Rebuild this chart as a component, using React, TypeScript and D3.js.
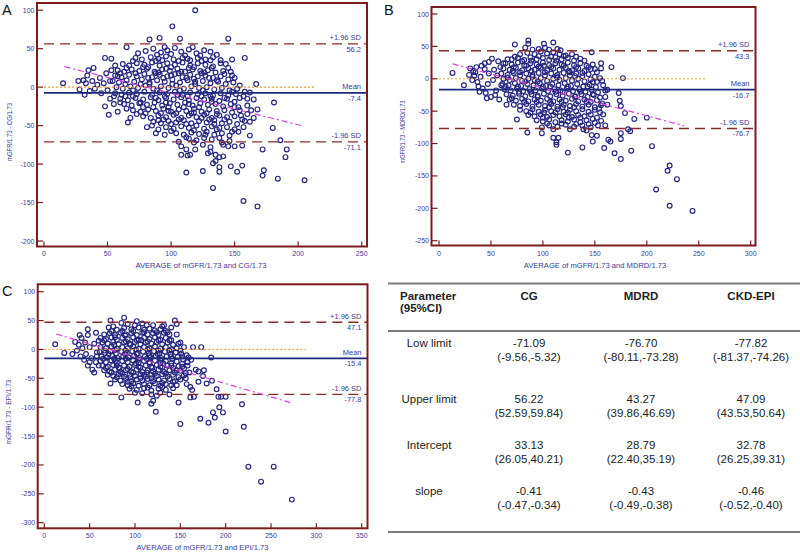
import React from 'react';
import * as d3 from 'd3';

type Pt = [number, number];

// ---------- DATA ----------
const panelLetters = ['A', 'B', 'C'];
const xTitles = ['AVERAGE of mGFR/1.73 and CG/1.73', 'AVERAGE of mGFR/1.73 and MDRD/1.73', 'AVERAGE of mGFR/1.73 and EPI/1.73'];
const yTitles = ['mGFR/1.73 - CG/1.73', 'mGFR/1.73 - MDRD/1.73', 'mGFR/1.73 - EPI/1.73'];
const xTicksA = [0, 50, 100, 150, 200, 250];
const xTicksB = [0, 50, 100, 150, 200, 250, 300];
const xTicksC = [0, 50, 100, 150, 200, 250, 300, 350];
const yTicksA = [100, 50, 0, -50, -100, -150, -200];
const yTicksB = [100, 50, 0, -50, -100, -150, -200, -250];
const yTicksC = [100, 50, 0, -50, -100, -150, -200, -250, -300];
const meanVals = [-7.4, -16.7, -15.4];
const upperVals = [56.2, 43.3, 47.1];
const lowerVals = [-71.1, -76.7, -77.8];
const intercepts = [33.13, 28.79, 32.78];
const slopes = [-0.41, -0.43, -0.46];
const regStart = [16, 13, 13];
const regEnd = [204, 236, 273];
const zeroLineEnd = [214, 256, 288];

const cgPoints: Pt[] = [
  [15,5],[32,-10],[31,9],[34,15],[35,22],[39,25],[48,38],[53,37],[51,-36],[58,-32],[48,-25],[66,-46],[68,-40],[65,52],[81,-52],[88,-60],[95,-62],[106,-71],[108,-77],[112,-81],[115,-88],[113,-89],[108,-88],[112,-111],[125,-109],[119,-81],[127,-62],[145,63],[83,62],[91,64],[107,63],[119,100],[101,79],[158,38],[148,36],[167,4],[165,-16],[181,-20],[168,-29],[180,-53],[162,-63],[186,-69],[172,-81],[191,-81],[190,-91],[173,-108],[172,-115],[184,-119],[205,-121],[156,-102],[152,-110],[147,-103],[138,-104],[138,-110],[133,-131],[157,-148],[168,-155],[156,-76],[150,-77],[145,-77],[140,-72],[141,-75],[135,-88],[138,-91],[141,-90],[135,-96],[133,-99],[131,-84],[129,-86],
  [28,-3],[36,-5],[40,-2],[42,3],[45,-8],[47,5],[50,-4],[52,8],[55,-12],[38,8],[44,12],[49,18],[53,22],[56,28],[58,14],[33,5],[27,8],
  [80,47],[86,50],[92,45],[97,48],[103,51],[108,46],[114,49],[120,44],[126,48],[131,46],[89,42],[100,43],[111,41],[123,41],[136,42],
  [72,38],[77,36],[84,39],[90,37],[96,40],[102,36],[109,38],[115,35],[121,38],[127,36],[133,39],[139,35],[143,30],
  [62,30],[67,28],[73,31],[79,29],[85,32],[91,28],[97,31],[103,29],[109,32],[115,28],[121,31],[127,29],[133,27],[139,31],[145,25],[147,20],
  [58,22],[63,20],[69,23],[75,21],[81,24],[87,20],[93,23],[99,21],[105,24],[111,20],[117,23],[123,21],[129,22],[135,19],[141,21],[148,15],
  [56,15],[61,13],[67,16],[73,14],[79,17],[85,13],[91,16],[97,14],[103,17],[109,13],[115,16],[121,14],[127,15],[133,12],[139,14],[145,10],[150,12],
  [54,8],[59,6],[65,9],[71,7],[77,10],[83,6],[89,9],[95,7],[101,10],[107,6],[113,9],[119,7],[125,8],[131,5],[137,7],[143,4],[149,6],[154,2],
  [57,0],[62,-2],[68,1],[74,-1],[80,2],[86,-2],[92,1],[98,-1],[104,2],[110,-2],[116,1],[122,-1],[128,0],[134,-3],[140,-1],[146,-4],[152,-2],[158,-6],[162,-7],
  [56,-8],[61,-10],[67,-7],[73,-9],[79,-6],[85,-10],[91,-7],[97,-9],[103,-6],[109,-10],[115,-7],[121,-9],[127,-8],[133,-11],[139,-8],[145,-11],[151,-9],[157,-12],
  [60,-15],[66,-17],[72,-14],[78,-16],[84,-13],[90,-17],[96,-14],[102,-16],[108,-13],[114,-17],[120,-14],[126,-16],[132,-15],[138,-18],[144,-15],[150,-19],[154,-14],
  [63,-22],[69,-24],[75,-21],[81,-23],[87,-20],[93,-24],[99,-21],[105,-23],[111,-20],[117,-24],[123,-21],[129,-23],[135,-22],[141,-25],[147,-22],[153,-26],[160,-24],
  [70,-30],[76,-32],[82,-29],[88,-31],[94,-28],[100,-32],[106,-29],[112,-31],[118,-28],[124,-32],[130,-29],[136,-31],[142,-30],[148,-33],[154,-30],[160,-35],
  [78,-38],[84,-40],[90,-37],[96,-39],[102,-36],[108,-40],[114,-37],[120,-39],[126,-36],[132,-40],[138,-37],[144,-39],[150,-38],[156,-42],[162,-45],
  [86,-45],[92,-47],[98,-44],[104,-46],[110,-43],[116,-47],[122,-44],[128,-46],[134,-43],[140,-47],[146,-45],[152,-48],[158,-44],
  [96,-52],[102,-54],[108,-51],[114,-53],[120,-50],[126,-54],[132,-51],[138,-53],[144,-52],[150,-55],
  [104,-60],[110,-62],[116,-59],[122,-61],[128,-58],[134,-62],[140,-60],[146,-63],
  [114,-67],[120,-69],[126,-66],[132,-68],[138,-66],
  [82,26],[88,18],[94,12],[100,26],[106,18],[112,12],[118,26],[124,18],[130,12],[83,4],[89,-4],[95,-12],[101,4],[107,-4],[113,-12],[119,4],[125,-4],[131,-12],[86,-26],[92,-34],[98,-26],[104,-34],[110,-26],[116,-34],[122,-26],[128,-34],[76,4],[70,-4],[64,-12],[76,-20],[88,34],[106,34],[124,34],[94,-42],[112,-48],[130,-42],[136,-55],
  [74,44],[95,52],[117,52],[70,34],[93,35],[113,37],[131,35],[65,25],[78,26],[96,24],[114,25],[132,25],[60,18],[72,18],[90,19],[108,20],[126,19],[142,17],[64,4],[82,12],[100,15],[118,11],[136,9],[70,-12],[88,-14],[105,-10],[124,-12],[142,-14],[148,-6],[78,-26],[96,-20],[114,-22],[132,-19],[150,-26],[80,-34],[98,-31],[118,-33],[136,-35],[155,-37],[90,-43],[106,-42],[124,-40],[142,-42],[100,-48],[118,-56],[134,-48],[148,-58],[112,-65],[125,-75],[60,-20],[55,-22],[52,-15],[65,-28],[73,-35],[160,-15],[163,-30],[165,-40],[157,-52],[153,-58],[146,-70],[131,-78],[118,-72],[100,-57],[85,-50],[90,-55]
];

const mdrdPoints: Pt[] = [
  [13,9],[24,-10],[30,16],[29,6],[32,-2],[35,10],[38,-12],[41,20],[44,24],[48,26],[51,31],[57,27],[62,24],[73,53],[73,34],[86,59],[86,54],[83,48],[101,54],[110,56],[117,44],[147,41],[156,24],[156,16],[166,18],[177,1],[162,-17],[173,-22],[174,-34],[175,-42],[179,-53],[188,-62],[200,-60],[182,-78],[184,-81],[185,-111],[175,-84],[175,-93],[169,-115],[175,-124],[163,-94],[165,-97],[159,-107],[152,-88],[148,-97],[147,-87],[139,-78],[138,-106],[124,-114],[113,-102],[113,-98],[110,-91],[115,-91],[99,-75],[99,-84],[85,-83],[75,-63],[205,-104],[209,-171],[220,-142],[222,-134],[229,-155],[222,-196],[244,-204],
  [34,5],[37,-5],[40,3],[42,-15],[45,-22],[47,-8],[48,8],[50,-28],[52,-2],[53,14],[55,-18],[56,5],[58,-32],[59,18],[60,-10],[44,15],[39,-20],[36,18],[33,12],[46,-30],[54,-25],
  [85,40],[92,38],[98,42],[104,39],[110,41],[116,38],[122,36],[96,46],[106,45],
  [70,30],[76,32],[82,29],[88,33],[94,30],[100,32],[106,29],[112,33],[118,30],[124,32],[130,28],[136,31],
  [64,24],[70,22],[76,25],[82,21],[88,24],[94,22],[100,25],[106,21],[112,24],[118,22],[124,25],[130,21],[136,24],[142,20],[148,22],
  [62,16],[68,14],[74,17],[80,13],[86,16],[92,14],[98,17],[104,13],[110,16],[116,14],[122,17],[128,13],[134,16],[140,12],[146,15],[152,10],
  [60,8],[66,6],[72,9],[78,5],[84,8],[90,6],[96,9],[102,5],[108,8],[114,6],[120,9],[126,5],[132,8],[138,4],[144,7],[150,3],[155,1],
  [62,0],[68,-2],[74,1],[80,-3],[86,0],[92,-2],[98,1],[104,-3],[110,0],[116,-2],[122,1],[128,-3],[134,0],[140,-4],[146,-1],[152,-5],[157,-3],
  [61,-8],[67,-10],[73,-7],[79,-11],[85,-8],[91,-10],[97,-7],[103,-11],[109,-8],[115,-10],[121,-7],[127,-11],[133,-8],[139,-12],[145,-9],[151,-13],[158,-10],
  [63,-16],[69,-18],[75,-15],[81,-19],[87,-16],[93,-18],[99,-15],[105,-19],[111,-16],[117,-18],[123,-15],[129,-19],[135,-16],[141,-20],[147,-17],[153,-21],[160,-18],
  [65,-24],[71,-26],[77,-23],[83,-27],[89,-24],[95,-26],[101,-23],[107,-27],[113,-24],[119,-26],[125,-23],[131,-27],[137,-24],[143,-28],[149,-25],[155,-29],
  [68,-32],[74,-34],[80,-31],[86,-35],[92,-32],[98,-34],[104,-31],[110,-35],[116,-32],[122,-34],[128,-31],[134,-35],[140,-32],[146,-36],[152,-33],[157,-38],
  [72,-40],[78,-42],[84,-39],[90,-43],[96,-40],[102,-42],[108,-39],[114,-43],[120,-40],[126,-42],[132,-39],[138,-43],[144,-40],[150,-44],[156,-41],
  [78,-48],[84,-50],[90,-47],[96,-51],[102,-48],[108,-50],[114,-47],[120,-51],[126,-48],[132,-50],[138,-47],[144,-51],[150,-48],[155,-52],
  [86,-56],[92,-58],[98,-55],[104,-59],[110,-56],[116,-58],[122,-55],[128,-59],[134,-56],[140,-58],[146,-55],[152,-60],
  [94,-64],[100,-66],[106,-63],[112,-67],[118,-64],[124,-66],[130,-63],[136,-67],[142,-64],[150,-68],
  [106,-72],[114,-74],[122,-71],[130,-74],[138,-72],[146,-75],[153,-72],
  [89,12],[95,-4],[101,20],[107,-12],[113,4],[119,-20],[125,12],[83,-4],[77,-20],[95,-28],[107,-36],[119,-44],[131,-28],[131,4],[143,-12],[89,28],[113,28],[101,-52],[125,-60],[71,12],[65,-40],
  [78,38],[90,45],[102,48],[114,46],[128,38],[140,28],[66,30],[80,27],[96,35],[108,34],[120,35],[132,34],[72,18],[84,20],[96,19],[108,18],[120,20],[132,18],[144,18],[150,15],[66,2],[78,10],[90,3],[102,10],[114,2],[126,10],[138,9],[148,-5],[64,-12],[76,-12],[88,-20],[100,-12],[112,-20],[124,-12],[136,-20],[148,-24],[70,-30],[82,-36],[94,-36],[106,-44],[118,-36],[130,-44],[142,-36],[154,-46],[88,-52],[100,-60],[112,-52],[124,-52],[136,-60],[148,-62],[104,-69],[118,-69],[132,-70],[144,-70],[160,-28],[162,-40],[158,-55],[156,-65],[160,-72],[110,-78],[126,-78],[142,-80]
];

const epiPoints: Pt[] = [
  [12,9],[22,-6],[31,-8],[34,13],[39,25],[48,35],[48,25],[57,29],[73,50],[71,38],[88,55],[85,46],[102,49],[144,50],[146,44],[132,42],[150,12],[154,4],[164,4],[173,4],[184,-14],[167,-35],[170,-38],[176,-36],[175,-46],[185,-54],[190,-69],[192,-82],[195,-82],[200,-82],[193,-100],[197,-109],[186,-109],[188,-118],[181,-127],[172,-120],[150,-129],[200,-142],[218,-95],[220,-134],[225,-203],[239,-229],[253,-203],[273,-260],[148,-92],[123,-108],[120,-89],[118,-94],[103,-92],[85,-83],[73,-59],[161,-83],[165,-82],[163,-70],[161,-65],[179,-59],[157,-60],[170,-56],
  [36,-2],[38,8],[40,-12],[42,2],[44,-18],[46,-8],[48,-28],[50,4],[52,-15],[53,-35],[55,10],[57,-22],[58,-5],[60,15],[45,12],[41,20],[50,-22],[55,-40],
  [80,34],[88,37],[96,35],[104,38],[110,34],[116,36],[122,33],[128,35],[134,32],[100,42],[113,42],
  [66,26],[72,28],[78,25],[84,29],[90,26],[96,28],[102,25],[108,29],[114,26],[120,28],[126,25],[132,29],[138,26],
  [62,20],[68,18],[74,21],[80,17],[86,20],[92,18],[98,21],[104,17],[110,20],[116,18],[122,21],[128,17],[134,20],[140,16],
  [64,12],[70,10],[76,13],[82,9],[88,12],[94,10],[100,13],[106,9],[112,12],[118,10],[124,13],[130,9],[136,12],[142,8],
  [62,4],[68,2],[74,5],[80,1],[86,4],[92,2],[98,5],[104,1],[110,4],[116,2],[122,5],[128,1],[134,4],[140,0],[146,2],
  [61,-4],[67,-6],[73,-3],[79,-7],[85,-4],[91,-6],[97,-3],[103,-7],[109,-4],[115,-6],[121,-3],[127,-7],[133,-4],[139,-8],[145,-5],[151,-7],[157,-10],
  [63,-12],[69,-14],[75,-11],[81,-15],[87,-12],[93,-14],[99,-11],[105,-15],[111,-12],[117,-14],[123,-11],[129,-15],[135,-12],[141,-16],[147,-13],[153,-17],[159,-14],
  [62,-20],[68,-22],[74,-19],[80,-23],[86,-20],[92,-22],[98,-19],[104,-23],[110,-20],[116,-22],[122,-19],[128,-23],[134,-20],[140,-24],[146,-21],[152,-25],[158,-22],
  [64,-28],[70,-30],[76,-27],[82,-31],[88,-28],[94,-30],[100,-27],[106,-31],[112,-28],[118,-30],[124,-27],[130,-31],[136,-28],[142,-32],[148,-29],[154,-33],
  [66,-36],[72,-38],[78,-35],[84,-39],[90,-36],[96,-38],[102,-35],[108,-39],[114,-36],[120,-38],[126,-35],[132,-39],[138,-36],[144,-40],[150,-37],[156,-41],
  [70,-44],[76,-46],[82,-43],[88,-47],[94,-44],[100,-46],[106,-43],[112,-47],[118,-44],[124,-46],[130,-43],[136,-47],[142,-44],[148,-48],[154,-45],
  [78,-52],[84,-54],[90,-51],[96,-55],[102,-52],[108,-54],[114,-51],[120,-55],[126,-52],[132,-54],[138,-51],[144,-55],[150,-52],
  [86,-60],[92,-62],[98,-59],[104,-63],[110,-60],[116,-62],[122,-59],[128,-63],[134,-60],[140,-62],
  [94,-68],[102,-70],[110,-67],[118,-71],[126,-68],[134,-70],[142,-67],
  [108,-76],[118,-78],[128,-75],[138,-78],
  [77,-16],[89,-8],[101,-24],[113,-16],[125,-8],[95,8],[107,16],[119,-32],[83,-32],[131,-24],[71,-8],[89,24],[101,0],[113,-40],[95,-48],[77,8],
  [76,40],[92,44],[108,45],[120,42],[130,40],[140,38],[74,32],[86,32],[98,32],[110,30],[124,30],[136,30],[146,26],[66,16],[78,21],[90,14],[102,16],[114,14],[126,16],[138,16],[148,10],[66,-2],[78,-1],[90,-2],[102,-8],[114,0],[126,-2],[138,-2],[150,-2],[65,-16],[78,-20],[90,-16],[104,-18],[116,-10],[128,-18],[140,-12],[152,-12],[68,-32],[80,-28],[92,-34],[104,-30],[116,-24],[128,-30],[140,-28],[152,-30],[74,-40],[86,-42],[98,-40],[110,-44],[122,-42],[134,-42],[146,-36],[80,-48],[92,-56],[106,-50],[118,-50],[130,-58],[142,-56],[96,-64],[114,-66],[130,-65],[146,-62],[100,-75],[124,-80],[156,-50],[160,-40],[158,-28],[162,-18],[60,-28],[58,-12]
];

// Table data
const tableHeaders = ['CG', 'MDRD', 'CKD-EPI'];
const rowLabels = ['Low limit', 'Upper limit', 'Intercept', 'slope'];
const cgValues = ['-71.09', '56.22', '33.13', '-0.41'];
const cgCIs = ['(-9.56,-5.32)', '(52.59,59.84)', '(26.05,40.21)', '(-0.47,-0.34)'];
const mdrdValues = ['-76.70', '43.27', '28.79', '-0.43'];
const mdrdCIs = ['(-80.11,-73.28)', '(39.86,46.69)', '(22.40,35.19)', '(-0.49,-0.38)'];
const epiValues = ['-77.82', '47.09', '32.78', '-0.46'];
const epiCIs = ['(-81.37,-74.26)', '(43.53,50.64)', '(26.25,39.31)', '(-0.52,-0.40)'];

// ---------- LAYOUT ----------
const FONT = 'Liberation Sans, Arial, Helvetica, sans-serif';
const BLUE = '#3a3a9c';
const FRAME = '#7a1c1c';

const layouts = [
  { fx0: 37, fx1: 367, fy0: 3, fy1: 246.5, xDom: [0, 250], xRng: [44, 361.7], yDom: [-200, 100], yRng: [241, 10.2], letter: [2, 15], yt: [12, 132, 58], xtB: 256, xtitleB: 268, xtitleX: 201 },
  { fx0: 431.5, fx1: 755.5, fy0: 7, fy1: 245.5, xDom: [0, 300], xRng: [439, 750.7], yDom: [-250, 100], yRng: [240.7, 14], letter: [384, 15], yt: [405, 132, 63], xtB: 255.5, xtitleB: 268, xtitleX: 595 },
  { fx0: 37.7, fx1: 367.5, fy0: 284.3, fy1: 528.3, xDom: [0, 350], xRng: [44.3, 361.7], yDom: [-300, 100], yRng: [522.7, 291.7], letter: [2, 296], yt: [11, 412, 65], xtB: 538, xtitleB: 550, xtitleX: 202.5 },
];

const pointSets = [cgPoints, mdrdPoints, epiPoints];
const xTickSets = [xTicksA, xTicksB, xTicksC];
const yTickSets = [yTicksA, yTicksB, yTicksC];

function Panel({ i }: { i: number }) {
  const L = layouts[i];
  const x = d3.scaleLinear().domain(L.xDom).range(L.xRng);
  const y = d3.scaleLinear().domain(L.yDom).range(L.yRng);
  const pts = pointSets[i];
  const line = d3.line<Pt>().x(d => x(d[0])).y(d => y(d[1]));
  const regPath = line([regStart[i], regEnd[i]].map(v => [v, intercepts[i] + slopes[i] * v] as Pt));
  const labelX = L.fx1 - 6;
  const hLines = [
    { v: upperVals[i], top: '+1.96 SD' },
    { v: meanVals[i], top: 'Mean' },
    { v: lowerVals[i], top: '-1.96 SD' },
  ];
  return (
    <g>
      <text x={L.letter[0]} y={L.letter[1]} fontSize={14.5} fill="#111">{panelLetters[i]}</text>
      {pts.map((d, k) => (
        <circle key={k} cx={x(d[0])} cy={y(d[1])} r={2.4} fill="none" stroke="#252580" strokeWidth={1.15} />
      ))}
      <line x1={x(0)} x2={x(zeroLineEnd[i])} y1={y(0)} y2={y(0)} stroke="#f29a30" strokeWidth={1.1} strokeDasharray="2,2" />
      <line x1={x(0)} x2={L.fx1} y1={y(upperVals[i])} y2={y(upperVals[i])} stroke="#8b2a2a" strokeWidth={1.4} strokeDasharray="10,6" />
      <line x1={x(0)} x2={L.fx1} y1={y(lowerVals[i])} y2={y(lowerVals[i])} stroke="#8b2a2a" strokeWidth={1.4} strokeDasharray="10,6" />
      <line x1={x(0)} x2={L.fx1} y1={y(meanVals[i])} y2={y(meanVals[i])} stroke="#1f2a7c" strokeWidth={1.9} />
      <path d={regPath || ''} fill="none" stroke="#e03ce0" strokeWidth={1.2} strokeDasharray="6,3,2,3" />
      {hLines.map((h, k) => (
        <g key={k} fontSize={7.5} textAnchor="end" fill={BLUE}>
          <text x={labelX} y={y(h.v) - 3.5}>{h.top}</text>
          <text x={labelX} y={y(h.v) + 8}>{h.v.toFixed(1)}</text>
        </g>
      ))}
      <rect x={L.fx0} y={L.fy0} width={L.fx1 - L.fx0} height={L.fy1 - L.fy0} fill="none" stroke={FRAME} strokeWidth={2} />
      {yTickSets[i].map(t => (
        <g key={'y' + t}>
          <line x1={L.fx0} x2={L.fx0 + 6} y1={y(t)} y2={y(t)} stroke={FRAME} strokeWidth={1.2} />
          <text x={L.fx0 - 2.5} y={y(t) + 2.5} fontSize={7} textAnchor="end" fill={BLUE}>{t}</text>
        </g>
      ))}
      {xTickSets[i].map(t => (
        <g key={'x' + t}>
          <line x1={x(t)} x2={x(t)} y1={L.fy1} y2={L.fy1 - 5} stroke={FRAME} strokeWidth={1.2} />
          <text x={x(t)} y={L.xtB} fontSize={7} textAnchor="middle" fill={BLUE}>{t}</text>
        </g>
      ))}
      <text x={L.xtitleX} y={L.xtitleB} fontSize={7.6} textAnchor="middle" fill={BLUE}>{xTitles[i]}</text>
      <text transform={`translate(${L.yt[0]},${L.yt[1]}) rotate(-90)`} fontSize={7} textAnchor="middle" fill={BLUE}
        textLength={L.yt[2]} lengthAdjust="spacingAndGlyphs">{yTitles[i]}</text>
    </g>
  );
}

function Table() {
  const colX = [529, 641, 751];
  const rowY = [347, 403, 449, 495];
  const cols = [
    [cgValues, cgCIs],
    [mdrdValues, mdrdCIs],
    [epiValues, epiCIs],
  ];
  return (
    <g fontSize={11.5} fill="#222">
      <line x1={388} x2={800} y1={283.5} y2={283.5} stroke="#7a7a7a" strokeWidth={2} />
      <line x1={388} x2={800} y1={331} y2={331} stroke="#7a7a7a" strokeWidth={2} />
      <line x1={388} x2={800} y1={532} y2={532} stroke="#7a7a7a" strokeWidth={2} />
      <text x={400} y={300} fontWeight="bold">Parameter</text>
      <text x={400} y={312} fontWeight="bold">(95%CI)</text>
      {tableHeaders.map((h, k) => (
        <text key={h} x={colX[k]} y={300} fontWeight="bold" textAnchor="middle">{h}</text>
      ))}
      {rowLabels.map((r, ri) => (
        <g key={r}>
          <text x={429} y={rowY[ri]} textAnchor="middle">{r}</text>
          {cols.map((c, ci) => (
            <g key={ci} textAnchor="middle">
              <text x={colX[ci]} y={rowY[ri]}>{c[0][ri]}</text>
              <text x={colX[ci]} y={rowY[ri] + 14}>{c[1][ri]}</text>
            </g>
          ))}
        </g>
      ))}
    </g>
  );
}

export default function App() {
  return (
    <svg width={800} height={556} style={{ position: 'absolute', left: 0, top: 0, background: '#fff' }} fontFamily={FONT}>
      <rect x={0} y={0} width={800} height={556} fill="#fff" />
      {[0, 1, 2].map(i => <Panel key={i} i={i} />)}
      <Table />
    </svg>
  );
}
